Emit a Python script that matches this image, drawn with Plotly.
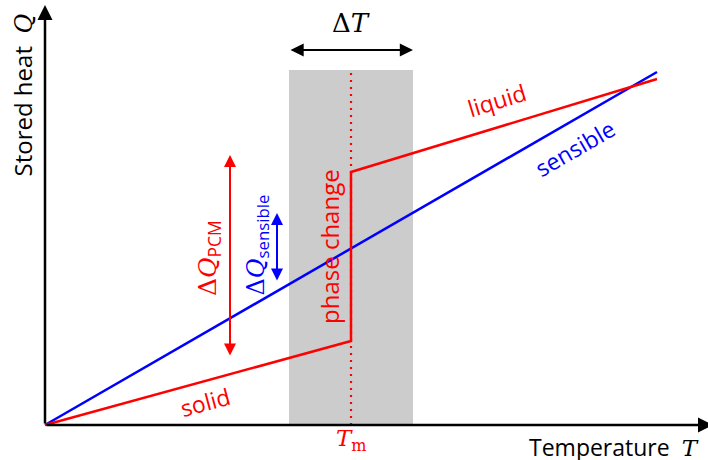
import plotly.graph_objects as go

# Schematic data (pixel-like units: x = temperature, y = stored heat)
sensible_T = [0, 612]
sensible_Q = [0, 353]
pcm_T = [0, 306, 306, 612]
pcm_Q = [0, 84, 253, 346]
T_m = 306
band_T = [244, 368]
band_top = 355
dT_y = 375
dQ_pcm_x = 185
dQ_pcm = [68, 270]
dQ_sens_x = 232
dQ_sens = [143, 212]

RED = "#ff0000"
BLUE = "#0000ff"
FONT = "Open Sans, Noto Sans, sans-serif"
SERIF = "DejaVu Serif, serif"

fig = go.Figure()

# gray melting band
fig.add_shape(type="rect", x0=band_T[0], x1=band_T[1], y0=0, y1=band_top,
              fillcolor="#cccccc", line_width=0, layer="below")
# dotted line at T_m
fig.add_shape(type="line", x0=T_m, x1=T_m, y0=0, y1=band_top,
              line=dict(color=RED, width=2.2, dash="2px,5px"), layer="below")

fig.add_trace(go.Scatter(x=sensible_T, y=sensible_Q, mode="lines",
                         line=dict(color=BLUE, width=2.5), showlegend=False))
fig.add_trace(go.Scatter(x=pcm_T, y=pcm_Q, mode="lines",
                         line=dict(color=RED, width=2.5), showlegend=False))

# axes with arrows
fig.add_annotation(x=0, y=420, ax=0, ay=0, axref="x", ayref="y", xref="x", yref="y",
                   text="", showarrow=True, arrowhead=2, arrowsize=1.2, arrowwidth=2.5,
                   arrowcolor="black")
fig.add_annotation(x=668, y=0, ax=0, ay=0, axref="x", ayref="y", xref="x", yref="y",
                   text="", showarrow=True, arrowhead=2, arrowsize=1.2, arrowwidth=2.5,
                   arrowcolor="black")

# ΔT arrow
fig.add_annotation(x=band_T[1], y=dT_y, ax=band_T[0], ay=dT_y, axref="x", ayref="y",
                   text="", showarrow=True, arrowhead=2, arrowside="end+start",
                   arrowsize=1.2, arrowwidth=2.2, arrowcolor="black")
fig.add_annotation(x=(band_T[0] + band_T[1]) / 2, y=dT_y + 10, text="Δ<i>T</i>",
                   showarrow=False, yanchor="bottom",
                   font=dict(family=SERIF, size=26, color="black"))

# ΔQ_PCM arrow
fig.add_annotation(x=dQ_pcm_x, y=dQ_pcm[1], ax=dQ_pcm_x, ay=dQ_pcm[0], axref="x", ayref="y",
                   text="", showarrow=True, arrowhead=2, arrowside="end+start",
                   arrowsize=1.2, arrowwidth=2, arrowcolor=RED)
fig.add_annotation(x=dQ_pcm_x - 21, y=(dQ_pcm[0] + dQ_pcm[1]) / 2 - 2, textangle=-90,
                   text="Δ<i>Q</i><sub style='font-family:Open Sans'>PCM</sub>", showarrow=False,
                   font=dict(family=SERIF, size=25, color=RED))

# ΔQ_sensible arrow
fig.add_annotation(x=dQ_sens_x, y=dQ_sens[1], ax=dQ_sens_x, ay=dQ_sens[0], axref="x", ayref="y",
                   text="", showarrow=True, arrowhead=2, arrowside="end+start",
                   arrowsize=1.2, arrowwidth=2, arrowcolor=BLUE)
fig.add_annotation(x=dQ_sens_x - 20, y=(dQ_sens[0] + dQ_sens[1]) / 2 + 2, textangle=-90,
                   text="Δ<i>Q</i><sub style='font-family:Open Sans'>sensible</sub>", showarrow=False,
                   font=dict(family=SERIF, size=24, color=BLUE))

# labels
fig.add_annotation(x=T_m - 22, y=178, text="phase change", textangle=-90, showarrow=False,
                   font=dict(family=FONT, size=24, color=RED))
fig.add_annotation(x=160, y=23, text="solid", textangle=-15, showarrow=False,
                   font=dict(family=FONT, size=23, color=RED))
fig.add_annotation(x=452, y=325, text="liquid", textangle=-17, showarrow=False,
                   font=dict(family=FONT, size=23, color=RED))
fig.add_annotation(x=530, y=277, text="sensible", textangle=-30, showarrow=False,
                   font=dict(family=FONT, size=23, color=BLUE))
fig.add_annotation(x=T_m, y=-15, text="<i>T</i><sub>m</sub>", showarrow=False,
                   font=dict(family=SERIF, size=23, color=RED))
fig.add_annotation(x=656, y=-22, xanchor="right",
                   text="Temperature  <i style='font-family:DejaVu Serif'>T</i>",
                   showarrow=False, font=dict(family=FONT, size=23, color="black"))
fig.add_annotation(x=-23, y=413, yanchor="top", textangle=-90,
                   text="Stored heat  <i style='font-family:DejaVu Serif'>Q</i>", showarrow=False,
                   font=dict(family=FONT, size=24, color="black"))

fig.update_layout(
    width=708, height=460,
    margin=dict(l=0, r=0, t=0, b=0),
    paper_bgcolor="white", plot_bgcolor="white",
    xaxis=dict(range=[-45, 663], visible=False, fixedrange=True),
    yaxis=dict(range=[-35, 425], visible=False, fixedrange=True),
    showlegend=False,
)

fig.write_html("out.html", config={"displayModeBar": False},
               post_script="document.body.style.margin='0';document.body.style.overflow='hidden';")
